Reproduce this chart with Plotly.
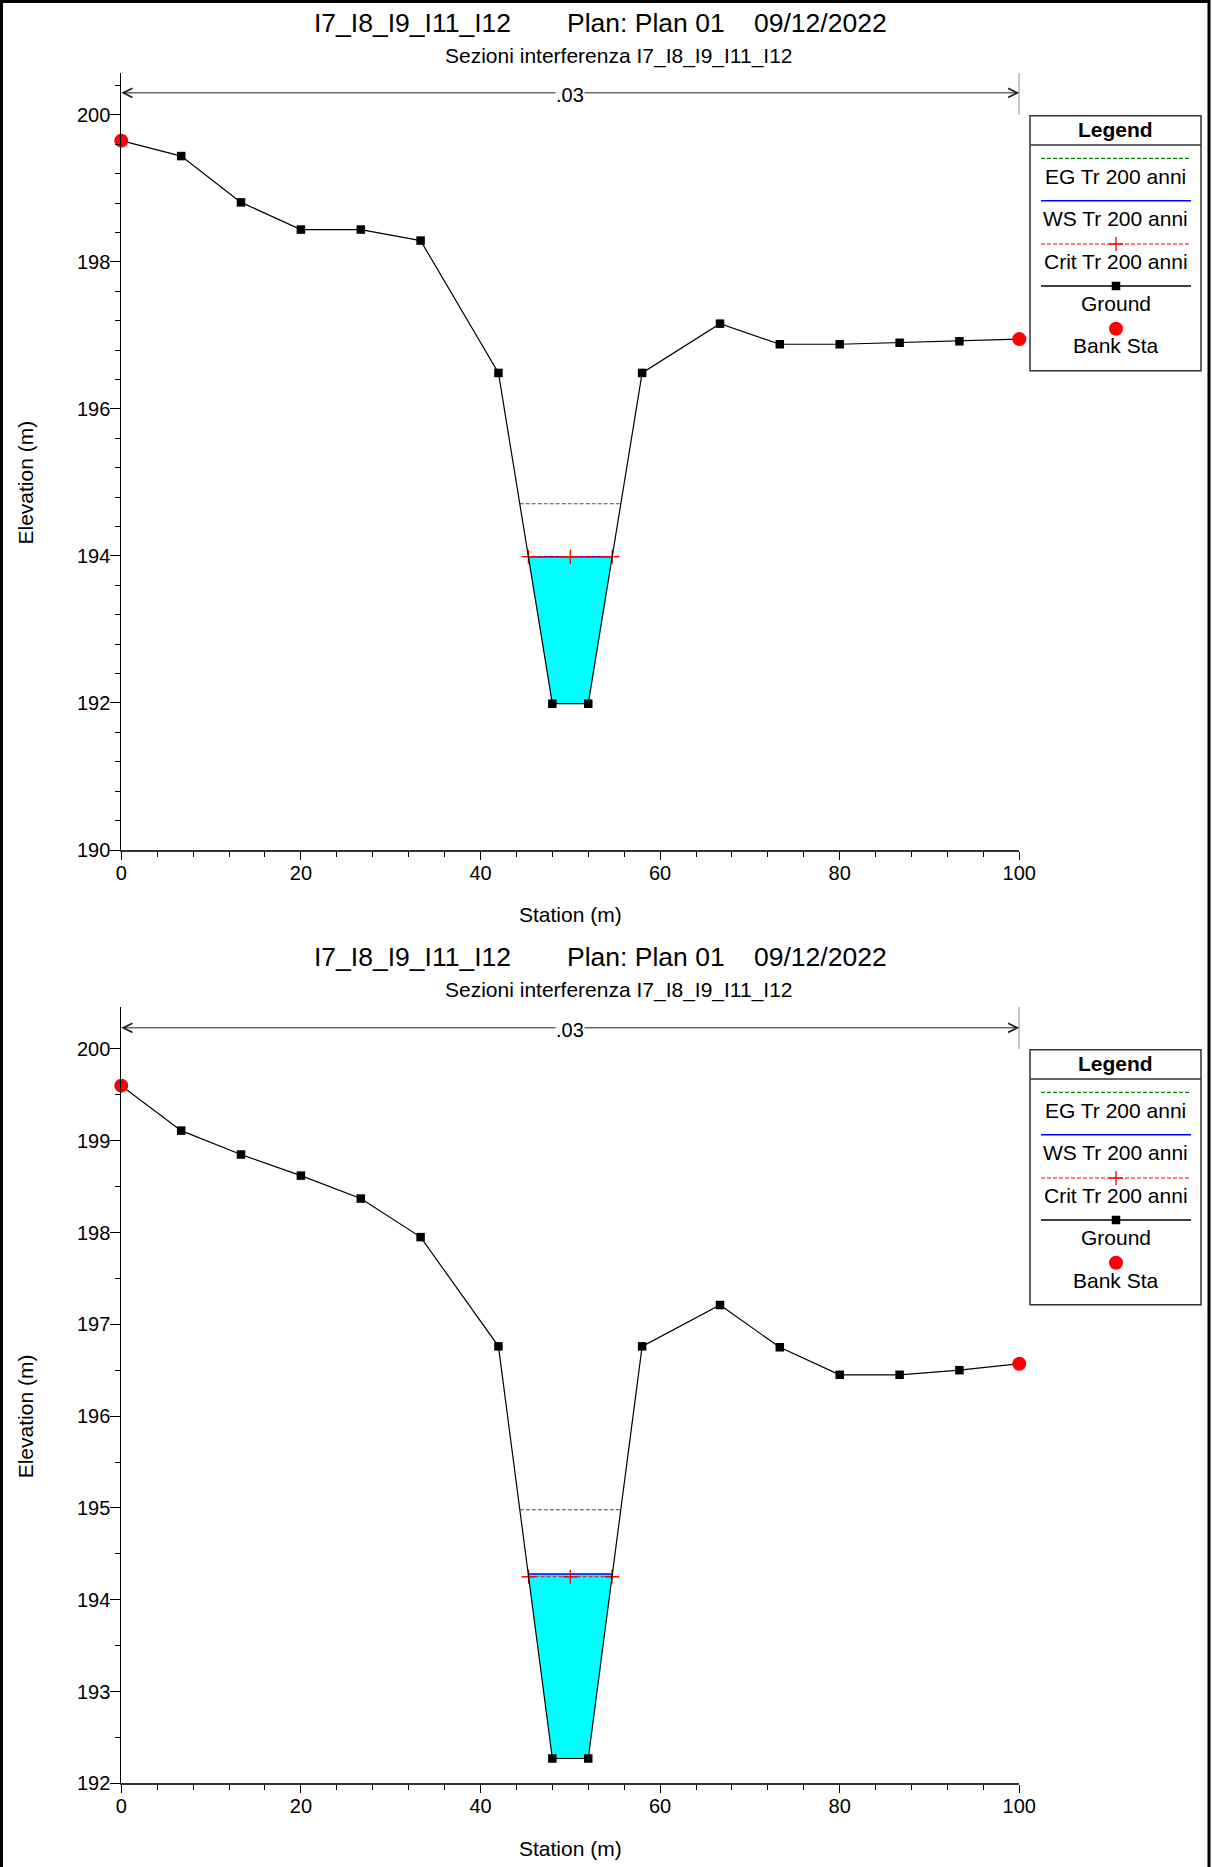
import numpy as np
import plotly.graph_objects as go

W, H = 1212, 1867
FONT = "Liberation Sans, Arial, sans-serif"

# ---------------- data ----------------
title_id = "I7_I8_I9_I11_I12"
title_plan = "Plan: Plan 01"
title_date = "09/12/2022"
subtitle = "Sezioni interferenza I7_I8_I9_I11_I12"
manning_n = ".03"

stations = [0, 6.67, 13.33, 20, 26.67, 33.33, 42, 48, 52, 58, 66.67, 73.33, 80, 86.67, 93.33, 100]

ground_top = [199.65, 199.44, 198.81, 198.44, 198.44, 198.29, 196.49, 191.99,
              191.99, 196.49, 197.16, 196.88, 196.88, 196.90, 196.92, 196.95]
ws_top = 193.99
eg_top = 194.71
crit_top = 193.99

ground_bot = [199.60, 199.11, 198.85, 198.62, 198.37, 197.95, 196.76, 192.27,
              192.27, 196.76, 197.21, 196.75, 196.45, 196.45, 196.50, 196.57]
ws_bot = 194.28
eg_bot = 194.98
crit_bot = 194.25

bank_sta = [0, 100]

legend_labels = ["EG Tr 200 anni", "WS Tr 200 anni", "Crit Tr 200 anni", "Ground", "Bank Sta"]

x_ticks = [0, 20, 40, 60, 80, 100]

# ---------------- helpers ----------------
def px(x):
    return x / W


def py(y):
    return 1 - y / H


def crossings(sta, gr, z):
    sta = np.asarray(sta, float)
    gr = np.asarray(gr, float)
    i_min = int(np.argmin(gr))
    i = i_min
    while i > 0 and gr[i - 1] < z:
        i -= 1
    xl = float(np.interp(z, [gr[i], gr[i - 1]], [sta[i], sta[i - 1]]))
    j = i_min
    while j < len(gr) - 1 and gr[j + 1] < z:
        j += 1
    xr = float(np.interp(z, [gr[j], gr[j + 1]], [sta[j], sta[j + 1]]))
    return xl, xr, i, j


fig = go.Figure()
annotations = []
shapes = []

panels = [
    dict(ground=ground_top, ws=ws_top, eg=eg_top, crit=crit_top, xa="x", ya="y",
         off=0, yrange=[190, 200.57], ydom=[py(850), py(73)], dtick=2, minor=0.4,
         arrow_y=200.30),
    dict(ground=ground_bot, ws=ws_bot, eg=eg_bot, crit=crit_bot, xa="x2", ya="y2",
         off=934, yrange=[192, 200.46], ydom=[py(1783.3), py(1006.7)], dtick=1, minor=0.5,
         arrow_y=200.23),
]

for p in panels:
    g = p["ground"]
    xa, ya = p["xa"], p["ya"]
    xl, xr, i, j = crossings(stations, g, p["ws"])
    fx = [xl] + stations[i:j + 1] + [xr, xl]
    fy = [p["ws"]] + g[i:j + 1] + [p["ws"], p["ws"]]
    fig.add_trace(go.Scatter(x=fx, y=fy, fill="toself", fillcolor="#00FFFF",
                             mode="lines", line=dict(width=0), xaxis=xa, yaxis=ya,
                             showlegend=False, hoverinfo="skip"))
    el, er, _, _ = crossings(stations, g, p["eg"])
    fig.add_trace(go.Scatter(x=[el, er], y=[p["eg"], p["eg"]], mode="lines",
                             line=dict(color="#008000", width=1.2, dash="4px,2px"),
                             xaxis=xa, yaxis=ya, showlegend=False))
    fig.add_trace(go.Scatter(x=[xl, xr], y=[p["ws"], p["ws"]], mode="lines",
                             line=dict(color="#0000FF", width=1.6),
                             xaxis=xa, yaxis=ya, showlegend=False))
    cl, cr, _, _ = crossings(stations, g, p["crit"])
    fig.add_trace(go.Scatter(x=[cl, (cl + cr) / 2, cr], y=[p["crit"]] * 3, mode="lines+markers",
                             line=dict(color="#FF0000", width=1.2, dash="4px,2px"),
                             marker=dict(symbol="cross-thin", size=10,
                                         line=dict(color="#FF0000", width=1.3)),
                             xaxis=xa, yaxis=ya, showlegend=False, cliponaxis=False))
    fig.add_trace(go.Scatter(x=stations, y=g, mode="lines+markers",
                             line=dict(color="black", width=1.2),
                             marker=dict(symbol="square", size=8.5, color="black"),
                             xaxis=xa, yaxis=ya, showlegend=False, cliponaxis=False))
    by = [float(np.interp(b, stations, g)) for b in bank_sta]
    fig.add_trace(go.Scatter(x=bank_sta, y=by, mode="markers",
                             marker=dict(symbol="circle", size=14, color="#FF0000"),
                             xaxis=xa, yaxis=ya, showlegend=False, cliponaxis=False))

    ay = p["arrow_y"]
    for target in (stations[0], stations[-1]):
        annotations.append(dict(x=target, y=ay, xref=xa, yref=ya, ax=50, ay=ay,
                                axref=xa, ayref=ya, text="", showarrow=True,
                                arrowhead=5, arrowsize=1.8, arrowwidth=1,
                                arrowcolor="#222"))
    annotations.append(dict(x=50, y=ay, xref=xa, yref=ya, text=manning_n, showarrow=False,
                            bgcolor="white", font=dict(size=20, family=FONT, color="black"),
                            borderpad=0, yshift=-2))
    shapes.append(dict(type="line", xref=xa, yref=ya, x0=100, x1=100, y0=200,
                       y1=p["yrange"][1], line=dict(color="black", width=1)))

    off = p["off"]
    for txt, cx in ((title_id, 412), (title_plan, 646), (title_date, 820)):
        annotations.append(dict(x=px(cx), y=py(23 + off), xref="paper", yref="paper",
                                text=txt, showarrow=False, xanchor="center", yanchor="middle",
                                font=dict(size=26.5, family=FONT, color="black")))
    annotations.append(dict(x=px(619), y=py(56 + off), xref="paper", yref="paper",
                            text=subtitle, showarrow=False, xanchor="center", yanchor="middle",
                            font=dict(size=21, family=FONT, color="black")))
    y_axis_center_px = (850 + 115) / 2 if off == 0 else (1783.3 + 1049.3) / 2
    annotations.append(dict(x=px(25), y=py(y_axis_center_px), xref="paper", yref="paper",
                            text="Elevation (m)", textangle=-90, showarrow=False,
                            xanchor="center", yanchor="middle",
                            font=dict(size=21, family=FONT, color="black")))
    st_y = 914 if off == 0 else 1848
    annotations.append(dict(x=px(570), y=py(st_y), xref="paper", yref="paper",
                            text="Station (m)", showarrow=False, xanchor="center",
                            yanchor="middle", font=dict(size=21, family=FONT, color="black")))

    shapes.append(dict(type="rect", xref="paper", yref="paper", x0=px(1030), x1=px(1201),
                       y0=py(370.7 + off), y1=py(115.7 + off),
                       line=dict(color="#333", width=1.5), fillcolor="white", layer="below"))
    shapes.append(dict(type="line", xref="paper", yref="paper", x0=px(1030), x1=px(1201),
                       y0=py(145 + off), y1=py(145 + off), line=dict(color="#333", width=1.5)))
    annotations.append(dict(x=px(1115.5), y=py(129 + off), xref="paper", yref="paper",
                            text="<b>Legend</b>", showarrow=False, xanchor="center",
                            yanchor="middle", font=dict(size=21, family=FONT, color="black")))
    sw_y = [158.3, 200.7, 244, 286, 328.7]
    tx_y = [176.5, 218.5, 261.5, 303.5, 346]
    line_styles = [dict(color="#008000", width=1.2, dash="4px,2px"),
                   dict(color="#0000FF", width=1.6),
                   dict(color="#FF0000", width=1.2, dash="4px,2px"),
                   dict(color="black", width=1.3),
                   None]
    for k in range(5):
        if line_styles[k] is not None:
            fig.add_trace(go.Scatter(x=[1041, 1191], y=[sw_y[k] + off] * 2, mode="lines",
                                     line=line_styles[k], xaxis="x3", yaxis="y3",
                                     showlegend=False, hoverinfo="skip", cliponaxis=False))
        annotations.append(dict(x=px(1115.5), y=py(tx_y[k] + off), xref="paper", yref="paper",
                                text=legend_labels[k], showarrow=False, xanchor="center",
                                yanchor="middle", font=dict(size=21, family=FONT, color="black")))
    fig.add_trace(go.Scatter(x=[1116], y=[244 + off], mode="markers",
                             marker=dict(symbol="cross-thin", size=10,
                                         line=dict(color="#FF0000", width=1.3)),
                             xaxis="x3", yaxis="y3", showlegend=False, cliponaxis=False))
    fig.add_trace(go.Scatter(x=[1116], y=[286 + off], mode="markers",
                             marker=dict(symbol="square", size=8.5, color="black"),
                             xaxis="x3", yaxis="y3", showlegend=False, cliponaxis=False))
    fig.add_trace(go.Scatter(x=[1116], y=[328.7 + off], mode="markers",
                             marker=dict(symbol="circle", size=14, color="#FF0000"),
                             xaxis="x3", yaxis="y3", showlegend=False, cliponaxis=False))

# Outer frame (image is cropped at the bottom, so the frame runs past it)
shapes.append(dict(type="rect", xref="paper", yref="paper", x0=px(1.5), x1=px(1209),
                   y0=-0.01, y1=py(1.5), line=dict(color="black", width=3)))

xdom = [px(121.3), px(1019.3)]
common_x = dict(range=[0, 100], tickvals=x_ticks, ticks="outside", ticklen=8, tickwidth=1,
                tickcolor="black", showline=True, linecolor="#333", linewidth=1.5,
                showgrid=False, zeroline=False, automargin=False, ticklabelstandoff=-4,
                tickfont=dict(size=20, family=FONT, color="black"),
                minor=dict(dtick=4, ticks="outside", ticklen=5, tickcolor="black", tickwidth=1,
                           showgrid=False),
                fixedrange=True)


def yaxis_cfg(p, anchor):
    return dict(range=p["yrange"], domain=p["ydom"], anchor=anchor, dtick=p["dtick"],
                tick0=0, ticks="outside", ticklen=10, tickwidth=1, tickcolor="black",
                showline=True, linecolor="black", linewidth=1, showgrid=False,
                zeroline=False, automargin=False, ticklabelstandoff=-4,
                tickfont=dict(size=20, family=FONT, color="black"),
                minor=dict(dtick=p["minor"], tick0=0, ticks="outside", ticklen=5,
                           tickcolor="black", tickwidth=1, showgrid=False),
                fixedrange=True)


fig.update_layout(
    width=W, height=H,
    margin=dict(l=0, r=0, t=0, b=0, pad=0, autoexpand=False),
    paper_bgcolor="white", plot_bgcolor="rgba(0,0,0,0)",
    showlegend=False,
    font=dict(family=FONT, color="black"),
    xaxis=dict(domain=xdom, anchor="y", **common_x),
    yaxis=yaxis_cfg(panels[0], "x"),
    xaxis2=dict(domain=xdom, anchor="y2", **common_x),
    yaxis2=yaxis_cfg(panels[1], "x2"),
    xaxis3=dict(domain=[0, 1], range=[0, W], anchor="y3", visible=False, fixedrange=True,
                automargin=False),
    yaxis3=dict(domain=[0, 1], range=[H, 0], anchor="x3", visible=False, fixedrange=True,
                automargin=False),
    annotations=annotations,
    shapes=shapes,
)

fig.write_html(
    "out.html",
    config={"displayModeBar": False, "responsive": False},
    post_script=(
        "document.documentElement.style.margin='0';"
        "document.documentElement.style.overflow='hidden';"
        "document.body.style.margin='0';document.body.style.padding='0';"
        "document.body.style.overflow='hidden';"
    ),
)
